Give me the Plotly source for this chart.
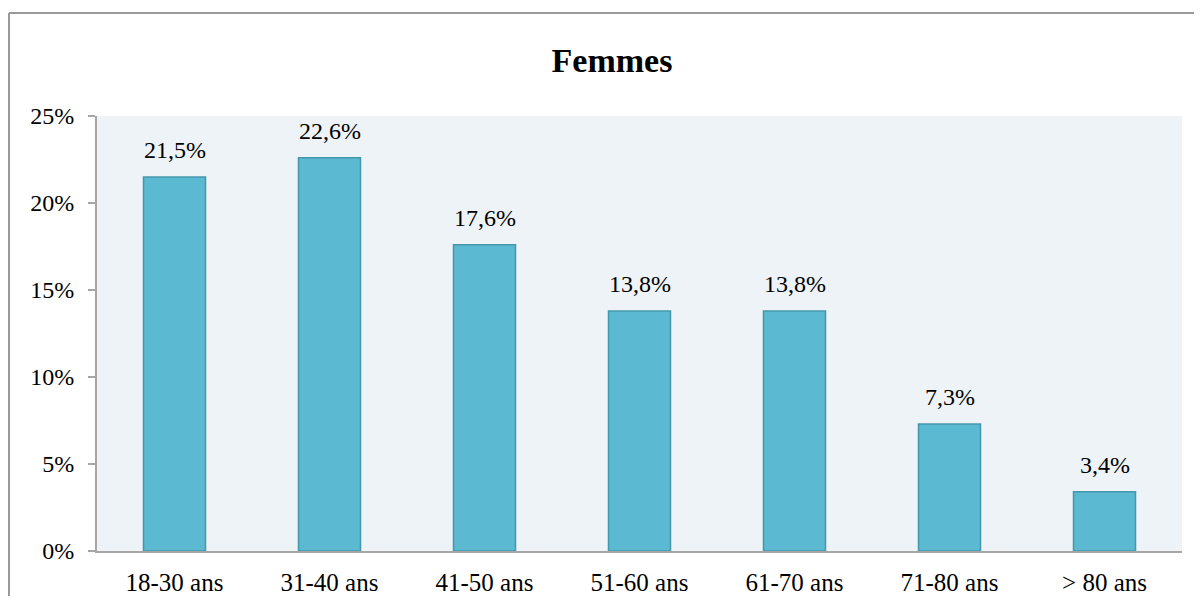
import plotly.graph_objects as go

# data
age_groups = ["18-30 ans", "31-40 ans", "41-50 ans", "51-60 ans", "61-70 ans", "71-80 ans", "> 80 ans"]
share_pct = [21.5, 22.6, 17.6, 13.8, 13.8, 7.3, 3.4]
y_ticks = [0, 5, 10, 15, 20, 25]

labels = [f"{v:.1f}%".replace(".", ",") for v in share_pct]
y_ticktext = [f"{v}%" for v in y_ticks]

FONT = "Liberation Serif"
AXIS_GRAY = "#A6A6A6"

fig = go.Figure(go.Bar(
    x=age_groups,
    y=share_pct,
    marker=dict(color="#5BB9D1", line=dict(color="#4598AC", width=1.5)),
    hoverinfo="skip",
    showlegend=False,
))

# value labels above the bars
for cat, val, txt in zip(age_groups, share_pct, labels):
    fig.add_annotation(x=cat, y=val, text=txt, showarrow=False,
                       yshift=27, font=dict(family=FONT, size=24, color="black"))

# page has an 8px body margin, so the figure sits at (8, 8)
W, H = 1186, 588
l, r, t, b = 89, W - 1174, 108, H - 543
pw, ph = W - l - r, H - t - b

# outer frame (runs off the right and bottom of the page)
fx0 = (1 - l) / pw
fy1 = (H - b - 5) / ph
fig.add_shape(type="line", xref="paper", yref="paper",
              x0=fx0, x1=(W + 20 - l) / pw, y0=fy1, y1=fy1,
              line=dict(color="#9A9A9A", width=2))
fig.add_shape(type="line", xref="paper", yref="paper",
              x0=fx0, x1=fx0, y0=fy1, y1=-(b + 20) / ph,
              line=dict(color="#9A9A9A", width=2))

fig.update_layout(
    width=W, height=H,
    margin=dict(l=l, r=r, t=t, b=b, autoexpand=False),
    paper_bgcolor="white",
    plot_bgcolor="#EEF3F7",
    bargap=0.6,
    font=dict(family=FONT, size=24, color="black"),
    title=dict(text="<b>Femmes</b>", x=604 / W, xanchor="center",
               y=1 - 52 / H, yanchor="middle", xref="container", yref="container",
               font=dict(family=FONT, size=34, color="black")),
    xaxis=dict(showgrid=False, showline=True, linecolor=AXIS_GRAY, linewidth=2,
               ticks="", ticklabelstandoff=8, tickfont=dict(size=25), automargin=False),
    yaxis=dict(range=[0, 25], tickmode="array", tickvals=y_ticks, ticktext=y_ticktext,
               showgrid=False, zeroline=False, showline=True, linecolor=AXIS_GRAY,
               linewidth=2, ticks="outside", ticklen=7, tickcolor=AXIS_GRAY, tickwidth=2,
               ticklabelstandoff=9, tickfont=dict(size=24), automargin=False),
)

fig.write_html("out.html")
